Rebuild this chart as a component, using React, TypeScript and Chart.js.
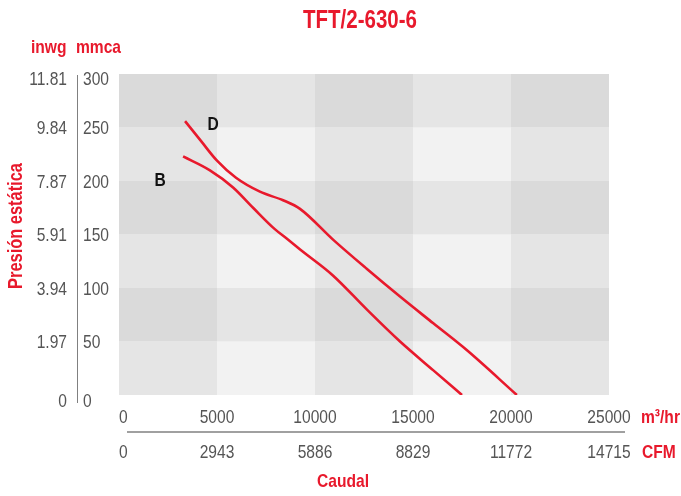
import React, { useEffect, useRef } from 'react';
import { Chart, registerables } from 'chart.js';

Chart.register(...registerables);

const chartTitle = 'TFT/2-630-6';
const flowTicks = [0, 5000, 10000, 15000, 20000, 25000];
const flowLabels = ['0', '5000', '10000', '15000', '20000', '25000'];
const cfmLabels = ['0', '2943', '5886', '8829', '11772', '14715'];
const pressureTicks = [0, 50, 100, 150, 200, 250, 300];
const mmcaLabels = ['0', '50', '100', '150', '200', '250', '300'];
const inwgLabels = ['0', '1.97', '3.94', '5.91', '7.87', '9.84', '11.81'];

const flowD = [3370, 4200, 5000, 5970, 7190, 8370, 9235, 10934, 12638, 14337, 16036, 17740, 20300];
const pressureD = [256, 237, 219, 203, 190, 182, 174, 145, 118, 92, 67, 42, 0];

const flowB = [3270, 4640, 5820, 6840, 7950, 8570, 9240, 10900, 12640, 14340, 16040, 17500];
const pressureB = [223, 210, 194, 175, 155, 146, 136, 112, 80, 50, 23, 0];

const curveNames = ['D', 'B'];
const curveLabelFlow = [4800, 2100];
const curveLabelPressure = [253, 200];

const FAMILY = "'Liberation Sans', Arial, sans-serif";
const NARROW = 0.82;
const RED = '#e8192c';
const TICK_COLOR = '#555555';

function narrowText(ctx: CanvasRenderingContext2D, text: string, x: number, y: number, align: CanvasTextAlign, font: string, color: string, angle = 0) {
  ctx.save();
  ctx.translate(x, y);
  if (angle) ctx.rotate(angle);
  ctx.scale(NARROW, 1);
  ctx.font = font;
  ctx.fillStyle = color;
  ctx.textAlign = align;
  ctx.textBaseline = 'middle';
  ctx.fillText(text, 0, 0);
  ctx.restore();
}

const bgPlugin = {
  id: 'checkerBg',
  beforeDatasetsDraw(chart: any) {
    const { ctx, scales } = chart;
    const x = scales.x;
    const y = scales.y;
    ctx.save();
    for (let i = 0; i < flowTicks.length - 1; i++) {
      for (let j = 0; j < pressureTicks.length - 1; j++) {
        const x0 = x.getPixelForValue(flowTicks[i]);
        const x1 = x.getPixelForValue(flowTicks[i + 1]);
        const y0 = y.getPixelForValue(pressureTicks[j + 1]);
        const y1 = y.getPixelForValue(pressureTicks[j]);
        const rowFromTop = pressureTicks.length - 2 - j;
        const colDark = i % 2 === 0;
        const rowDark = rowFromTop % 2 === 0;
        ctx.fillStyle = colDark && rowDark ? '#dadada' : colDark || rowDark ? '#e5e5e5' : '#f2f2f2';
        ctx.fillRect(x0, y0, x1 - x0, y1 - y0);
      }
    }
    ctx.restore();
  },
};

const textPlugin = {
  id: 'extraText',
  afterDraw(chart: any) {
    const { ctx, scales, chartArea } = chart;
    const x = scales.x;
    const y = scales.y;
    const tickFont = `19px ${FAMILY}`;
    const boldFont = `bold 19px ${FAMILY}`;
    ctx.save();

    // title
    narrowText(ctx, chartTitle, 360, 21, 'center', `bold 25px ${FAMILY}`, RED);

    // unit labels
    narrowText(ctx, 'inwg', 31, 48, 'left', boldFont, RED);
    narrowText(ctx, 'mmca', 76, 48, 'left', boldFont, RED);
    narrowText(ctx, 'm³/hr', 641, 418, 'left', boldFont, RED);
    narrowText(ctx, 'CFM', 642, 453, 'left', boldFont, RED);
    narrowText(ctx, 'Caudal', 343, 482, 'center', boldFont, RED);
    narrowText(ctx, 'Presión estática', 16, 226, 'center', `bold 20px ${FAMILY}`, RED, -Math.PI / 2);

    // x tick labels (m3/hr and CFM)
    const rowTop = chartArea.bottom + 23;
    const rowBottom = chartArea.bottom + 58;
    for (let i = 0; i < flowTicks.length; i++) {
      const px = x.getPixelForValue(flowTicks[i]);
      const align: CanvasTextAlign = i === 0 ? 'left' : 'center';
      narrowText(ctx, flowLabels[i], px, rowTop, align, tickFont, TICK_COLOR);
      narrowText(ctx, cfmLabels[i], px, rowBottom, align, tickFont, TICK_COLOR);
    }

    // y tick labels (inwg and mmca)
    const last = pressureTicks.length - 1;
    for (let j = 0; j < pressureTicks.length; j++) {
      const dy = j === 0 ? 7 : j === last ? 6 : 1.5;
      const py = y.getPixelForValue(pressureTicks[j]) + dy;
      narrowText(ctx, inwgLabels[j], 67, py, 'right', tickFont, TICK_COLOR);
      narrowText(ctx, mmcaLabels[j], 83, py, 'left', tickFont, TICK_COLOR);
    }

    // separator lines
    ctx.strokeStyle = '#808080';
    ctx.lineWidth = 1.5;
    ctx.beginPath();
    ctx.moveTo(127, 432);
    ctx.lineTo(625, 432);
    ctx.stroke();
    ctx.lineWidth = 1;
    ctx.beginPath();
    ctx.moveTo(77.5, 75);
    ctx.lineTo(77.5, 403);
    ctx.stroke();

    // curve labels
    for (let k = 0; k < curveNames.length; k++) {
      narrowText(ctx, curveNames[k], x.getPixelForValue(curveLabelFlow[k]), y.getPixelForValue(curveLabelPressure[k]), 'center', boldFont, '#111111');
    }
    ctx.restore();
  },
};

export default function App() {
  const ref = useRef<HTMLCanvasElement | null>(null);

  useEffect(() => {
    if (!ref.current) return;
    const chart = new Chart(ref.current, {
      type: 'line',
      data: {
        datasets: [
          {
            label: 'D',
            data: flowD.map((f, i) => ({ x: f, y: pressureD[i] })),
            borderColor: RED,
            borderWidth: 2.6,
            pointRadius: 0,
            cubicInterpolationMode: 'monotone',
            fill: false,
          },
          {
            label: 'B',
            data: flowB.map((f, i) => ({ x: f, y: pressureB[i] })),
            borderColor: RED,
            borderWidth: 2.6,
            pointRadius: 0,
            cubicInterpolationMode: 'monotone',
            fill: false,
          },
        ],
      },
      options: {
        animation: false,
        responsive: false,
        events: [],
        layout: { padding: { left: 119, right: 72, top: 74, bottom: 101 } },
        plugins: { legend: { display: false }, tooltip: { enabled: false }, title: { display: false } },
        scales: {
          x: { type: 'linear', display: false, min: 0, max: 25000 },
          y: { type: 'linear', display: false, min: 0, max: 300 },
        },
      },
      plugins: [bgPlugin, textPlugin],
    } as any);
    return () => chart.destroy();
  }, []);

  return (
    <div style={{ position: 'fixed', left: 0, top: 0, width: 681, height: 496, background: '#ffffff' }}>
      <canvas ref={ref} width={681} height={496} style={{ display: 'block' }} />
    </div>
  );
}
